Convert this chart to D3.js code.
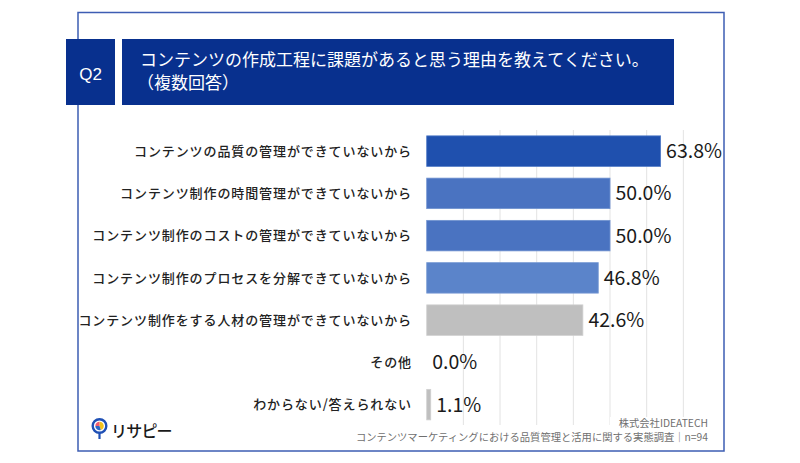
<!DOCTYPE html>
<html>
<head>
<meta charset="utf-8">
<script src="https://cdn.jsdelivr.net/npm/d3@7"></script>
<style>
  body { margin: 0; background: #fff; }
  svg { display: block; font-family: "Noto Sans CJK JP", "Noto Sans", sans-serif; }
</style>
</head>
<body>
<svg id="chart" width="800" height="463"></svg>
<script>
// data
const categories = [
  "コンテンツの品質の管理ができていないから",
  "コンテンツ制作の時間管理ができていないから",
  "コンテンツ制作のコストの管理ができていないから",
  "コンテンツ制作のプロセスを分解できていないから",
  "コンテンツ制作をする人材の管理ができていないから",
  "その他",
  "わからない/答えられない"
];
const values = [63.8, 50.0, 50.0, 46.8, 42.6, 0.0, 1.1];
const gridTicks = [10, 20, 30, 40, 50, 60, 70];
const titleLines = ["コンテンツの作成工程に課題があると思う理由を教えてください。", "（複数回答）"];
const footerLines = ["株式会社IDEATECH", "コンテンツマーケティングにおける品質管理と活用に関する実態調査｜n=94"];

const barColors = ["#1f50ae", "#4a73c1", "#4a73c1", "#5b84ca", "#bfbfbf", "#bfbfbf", "#bfbfbf"];
const barStrokes = ["#4f79c6", "#7093d0", "#7093d0", "#7c9dd5", "#d0d0d0", "#d0d0d0", "#d0d0d0"];

const svg = d3.select("#chart");

// outer frame
svg.append("rect")
  .attr("x", 78).attr("y", 12.5)
  .attr("width", 646).attr("height", 438.5)
  .attr("fill", "none")
  .attr("stroke", "#3d5db3")
  .attr("stroke-width", 1.5);

// question header
svg.append("rect")
  .attr("x", 66).attr("y", 39).attr("width", 49).attr("height", 66)
  .attr("fill", "#08308e");
svg.append("text")
  .attr("x", 90.5).attr("y", 80)
  .attr("text-anchor", "middle")
  .attr("fill", "#fff")
  .attr("font-family", "Liberation Sans, Arial, sans-serif")
  .attr("font-size", 17)
  .text("Q2");

svg.append("rect")
  .attr("x", 122).attr("y", 39).attr("width", 552).attr("height", 66)
  .attr("fill", "#08308e");
svg.append("g")
  .selectAll("text")
  .data(titleLines)
  .join("text")
  .attr("x", (d, i) => i === 0 ? 140 : 137)
  .attr("y", (d, i) => 66 + i * 23)
  .attr("fill", "#fff")
  .attr("font-size", 17)
  .text(d => d);

// scales
const x = d3.scaleLinear().domain([0, 80]).range([426.7, 720]);
const y = d3.scaleBand()
  .domain(categories)
  .range([130, 130 + 42.25 * categories.length])
  .paddingInner(0.278)
  .paddingOuter(0.139);

// grid
svg.append("g")
  .selectAll("line")
  .data(gridTicks)
  .join("line")
  .attr("x1", d => x(d)).attr("x2", d => x(d))
  .attr("y1", 130).attr("y2", 425)
  .attr("stroke", "#e3e3e3")
  .attr("stroke-width", 1);

// bars
svg.append("g")
  .selectAll("rect")
  .data(values)
  .join("rect")
  .attr("x", x(0))
  .attr("y", (d, i) => y(categories[i]))
  .attr("width", d => x(d) - x(0))
  .attr("height", y.bandwidth())
  .attr("fill", (d, i) => barColors[i])
  .attr("stroke", (d, i) => d > 0 ? barStrokes[i] : "none")
  .attr("stroke-width", 0.8);

// value labels
svg.append("g")
  .selectAll("text")
  .data(values)
  .join("text")
  .attr("x", d => x(d) + 5.5)
  .attr("y", (d, i) => y(categories[i]) + y.bandwidth() / 2)
  .attr("dy", "0.36em")
  .attr("fill", "#1a1a1a")
  .attr("font-size", 19.5)
  .text(d => d.toFixed(1) + "%");

// category labels
svg.append("g")
  .selectAll("text")
  .data(categories)
  .join("text")
  .attr("x", 412)
  .attr("y", d => y(d) + y.bandwidth() / 2)
  .attr("dy", "0.36em")
  .attr("text-anchor", "end")
  .attr("fill", "#222")
  .attr("font-size", 13)
  .attr("font-weight", 500)
  .attr("letter-spacing", 0.9)
  .text(d => d);

// footer (white patch behind each line hides the grid)
const foot = svg.append("g");
footerLines.forEach((t, i) => {
  const base = 426.5 + i * 14;
  foot.append("rect")
    .attr("x", i === 0 ? 610 : 352).attr("y", base - 9.5)
    .attr("width", i === 0 ? 100 : 358).attr("height", 12)
    .attr("fill", "#fff");
  foot.append("text")
    .attr("x", 708)
    .attr("y", base)
    .attr("text-anchor", "end")
    .attr("fill", "#6f6f6f")
    .attr("font-size", 10.3)
    .text(t);
});

// logo
const logo = svg.append("g").attr("transform", "translate(99.5,426)");
logo.append("line")
  .attr("x1", 0).attr("y1", 6).attr("x2", 0).attr("y2", 13)
  .attr("stroke", "#1f50b5").attr("stroke-width", 2.2);
logo.append("circle").attr("r", 6.8)
  .attr("fill", "#fff").attr("stroke", "#1f50b5").attr("stroke-width", 2.4);
const pie = d3.pie().sort(null)([45, 30, 25]);
const arc = d3.arc().innerRadius(0).outerRadius(4.2);
logo.selectAll("path.slice")
  .data(pie)
  .join("path")
  .attr("class", "slice")
  .attr("d", arc)
  .attr("fill", (d, i) => ["#f4c21b", "#2b67c7", "#ee5a6f"][i]);
svg.append("text")
  .attr("x", 111)
  .attr("y", 436.5)
  .attr("fill", "#1a1a1a")
  .attr("font-size", 16)
  .attr("font-weight", 500)
  .attr("letter-spacing", -0.8)
  .text("リサピー");
</script>
</body>
</html>
